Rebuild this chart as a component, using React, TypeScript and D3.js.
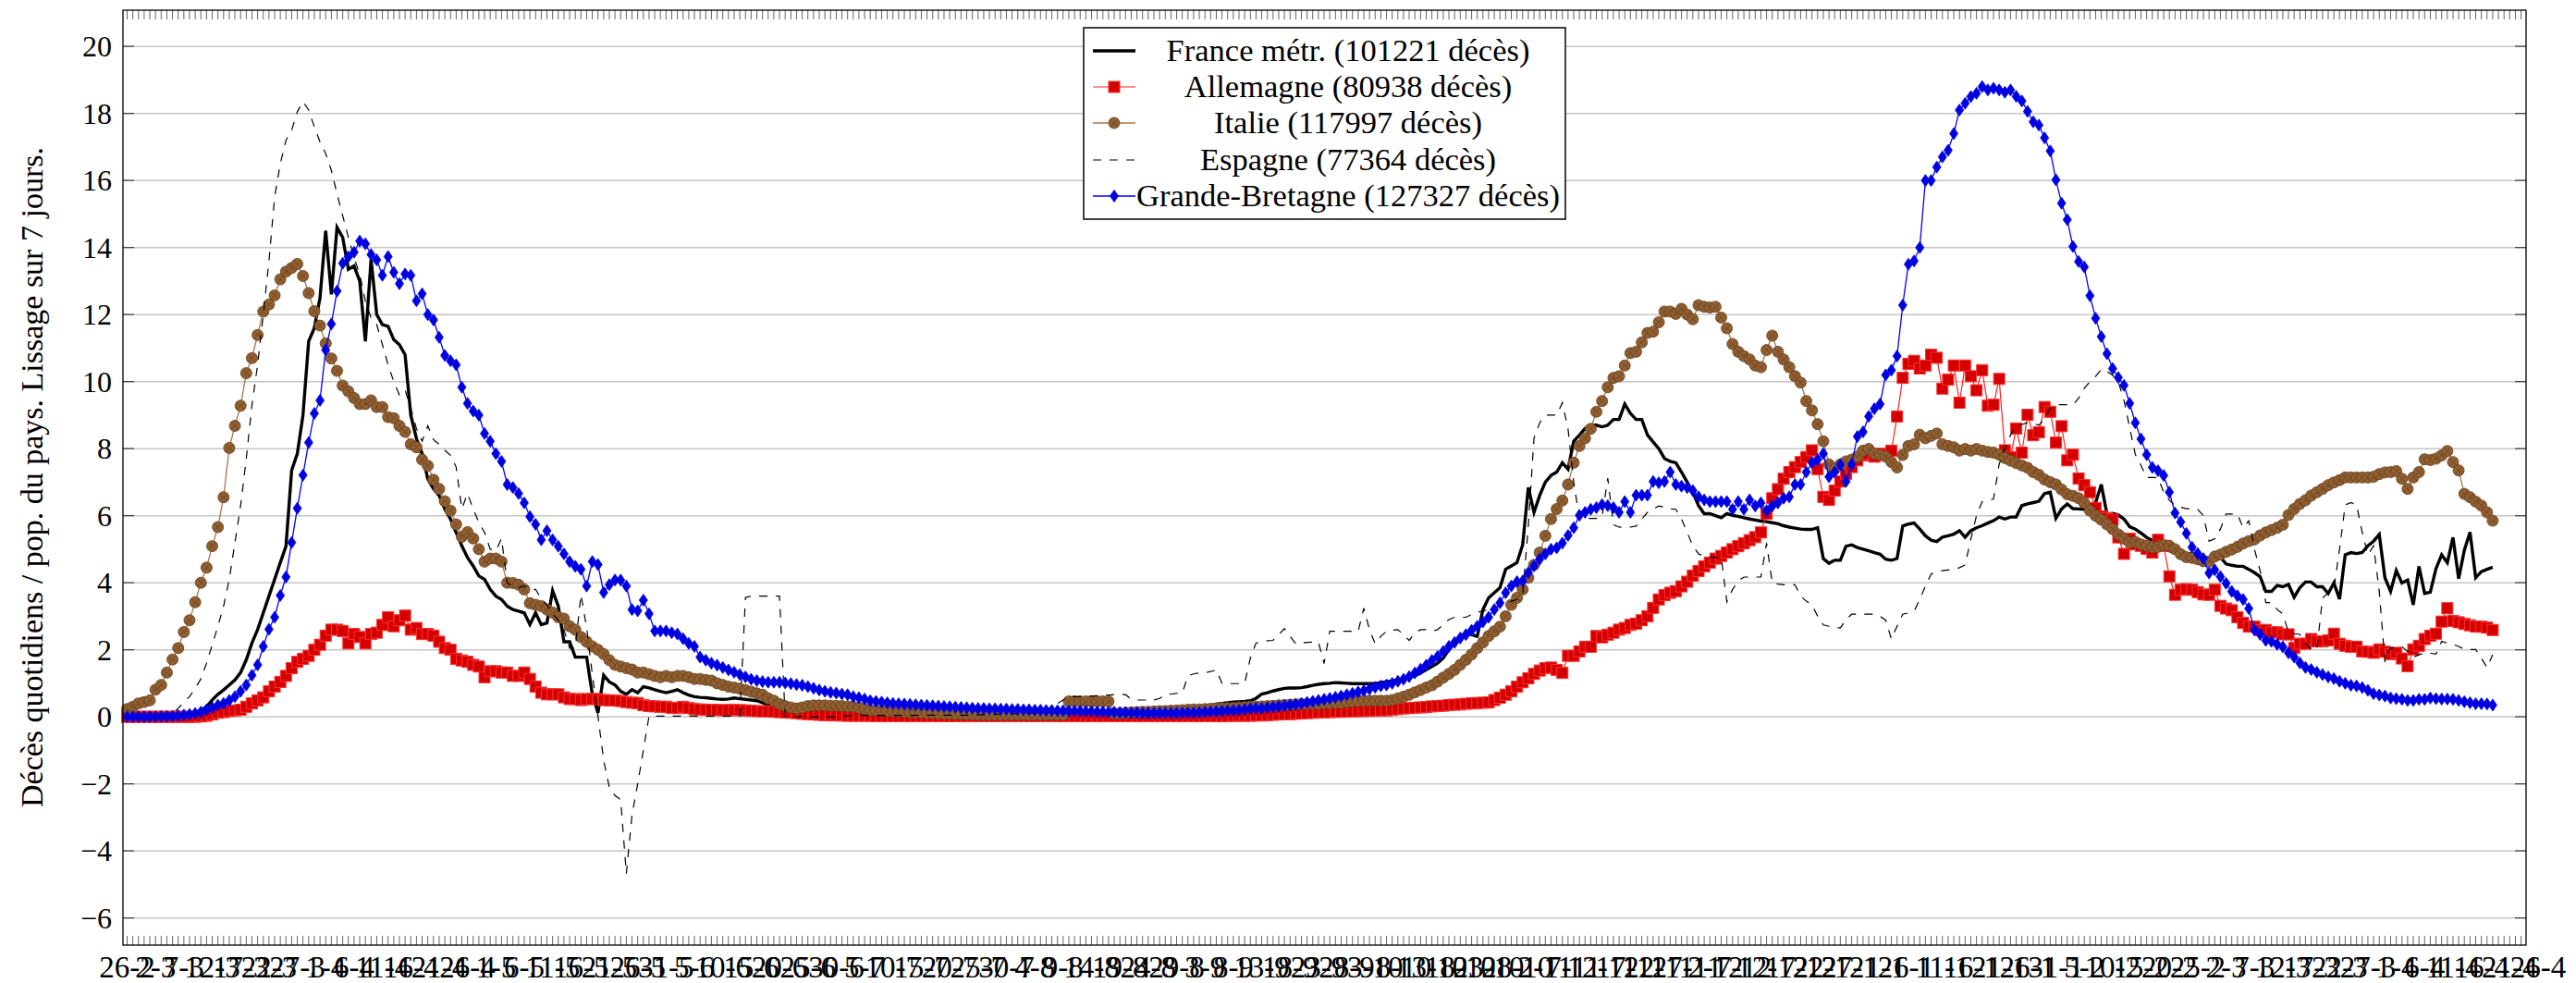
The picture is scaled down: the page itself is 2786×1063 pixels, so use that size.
import React from 'react';
import * as d3 from 'd3';

// one label every 5 days, starting 26 Feb 2020
const xLabels = [
  '26-2', '2-3', '7-3', '12-3', '17-3', '22-3', '27-3', '1-4', '6-4', '11-4',
  '16-4', '21-4', '26-4', '1-5', '6-5', '11-5', '16-5', '21-5', '26-5', '31-5',
  '5-6', '10-6', '15-6', '20-6', '25-6', '30-6', '5-7', '10-7', '15-7', '20-7',
  '25-7', '30-7', '4-8', '9-8', '14-8', '19-8', '24-8', '29-8', '3-9', '8-9',
  '13-9', '18-9', '23-9', '28-9', '3-10', '8-10', '13-10', '18-10', '23-10', '28-10',
  '2-11', '7-11', '12-11', '17-11', '22-11', '27-11', '2-12', '7-12', '12-12', '17-12',
  '22-12', '27-12', '1-1', '6-1', '11-1', '16-1', '21-1', '26-1', '31-1', '5-2',
  '10-2', '15-2', '20-2', '25-2', '2-3', '7-3', '12-3', '17-3', '22-3', '27-3',
  '1-4', '6-4', '11-4', '16-4', '21-4', '26-4',
];
const yTicks = [-6, -4, -2, 0, 2, 4, 6, 8, 10, 12, 14, 16, 18, 20];

const france = [
  0, 0, 0, 0, 0, 0.01, 0.02, 0.03, 0.04, 0.05,
  0.08, 0.1, 0.12, 0.2, 0.3, 0.5, 0.67, 0.8, 0.95, 1.1,
  1.32, 1.7, 2.2, 2.6, 3.1, 3.6, 4.1, 4.6, 5.09, 7.35,
  7.85, 9.0, 11.2, 11.6, 12.5, 14.5, 12.6, 14.6, 14.3, 13.35,
  13.45, 13.0, 11.2, 13.65, 12.0, 11.7, 11.65, 11.25, 11.1, 10.8,
  9.0, 8.3, 7.85, 7.1, 6.8, 6.6, 6.2, 5.9, 5.5, 5.1,
  4.75, 4.5, 4.2, 4.1, 3.8, 3.6, 3.5, 3.3, 3.2, 3.15,
  3.1, 2.75, 3.1, 2.75, 2.8, 3.76, 3.3, 2.24, 2.24, 1.78,
  1.78, 1.78, 0.67, 0.12, 1.24, 1.04, 0.95, 0.76, 0.67, 0.81,
  0.72, 0.9, 0.86, 0.81, 0.76, 0.72, 0.76, 0.81, 0.72, 0.65,
  0.6, 0.58, 0.57, 0.55, 0.53, 0.52, 0.53, 0.56, 0.54, 0.52,
  0.5, 0.48, 0.42, 0.35, 0.31, 0.27, 0.25, 0.23, 0.22, 0.21,
  0.2, 0.2, 0.2, 0.19, 0.19, 0.18, 0.18, 0.17, 0.17, 0.17,
  0.16, 0.16, 0.16, 0.15, 0.15, 0.15, 0.14, 0.14, 0.14, 0.13,
  0.13, 0.13, 0.13, 0.12, 0.12, 0.12, 0.12, 0.11, 0.11, 0.11,
  0.11, 0.11, 0.11, 0.11, 0.11, 0.11, 0.11, 0.11, 0.11, 0.11,
  0.11, 0.11, 0.12, 0.12, 0.13, 0.13, 0.14, 0.14, 0.15, 0.15,
  0.16, 0.16, 0.16, 0.17, 0.17, 0.17, 0.18, 0.18, 0.18, 0.18,
  0.19, 0.2, 0.2, 0.21, 0.22, 0.22, 0.22, 0.22, 0.22, 0.26,
  0.3, 0.34, 0.38, 0.4, 0.42, 0.44, 0.45, 0.46, 0.48, 0.55,
  0.68, 0.72, 0.77, 0.81, 0.85, 0.86, 0.86, 0.87, 0.9, 0.94,
  0.97, 0.99, 1.0, 1.02, 1.01, 1.0, 0.99, 0.99, 0.99, 0.99,
  0.99, 1.02, 1.05, 1.07, 1.1, 1.12, 1.17, 1.22, 1.31, 1.4,
  1.5, 1.6, 1.75, 2.0, 2.2, 2.4, 2.5, 2.45, 2.4, 3.2,
  3.55, 3.7, 3.85, 4.4, 4.5, 4.6, 5.13, 6.84, 6.1, 6.6,
  7.0, 7.2, 7.3, 7.58, 7.39, 8.22, 8.4, 8.6, 8.7, 8.7,
  8.65, 8.7, 8.87, 8.87, 9.33, 9.05, 8.87, 8.87, 8.41, 8.2,
  8.0, 7.71, 7.62, 7.58, 7.3, 7.0, 6.7, 6.3, 6.06, 6.06,
  6.0, 5.94, 6.06, 6.01, 5.98, 5.94, 5.9, 5.87, 5.84, 5.82,
  5.79, 5.76, 5.7, 5.66, 5.63, 5.6, 5.59, 5.59, 5.64, 4.72,
  4.58, 4.67, 4.67, 5.09, 5.13, 5.05, 5.0, 4.95, 4.9, 4.85,
  4.7, 4.67, 4.72, 5.69, 5.75, 5.78, 5.6, 5.4, 5.27, 5.23,
  5.36, 5.4, 5.45, 5.55, 5.36, 5.55, 5.64, 5.7, 5.78, 5.85,
  5.96, 5.9, 5.96, 5.96, 6.3, 6.35, 6.39, 6.43, 6.66, 6.7,
  5.92, 6.2, 6.35, 6.21, 6.2, 6.19, 6.19, 6.39, 6.93, 6.05,
  6.07, 6.02, 5.9, 5.67, 5.6, 5.48, 5.35, 5.26, 5.22, 5.0,
  4.95, 4.9, 4.86, 4.83, 4.88, 4.82, 4.76, 4.74, 4.72, 4.76,
  4.56, 4.52, 4.49, 4.49, 4.4, 4.3, 4.18, 3.74, 3.74, 3.92,
  3.88, 3.95, 3.57, 3.85, 4.02, 4.02, 3.88, 3.88, 3.68, 3.99,
  3.51, 4.83, 4.9, 4.87, 4.9, 5.1, 5.24, 5.44, 4.15, 3.74,
  4.36, 3.99, 4.08, 3.34, 4.49, 3.68, 3.72, 4.42, 4.83, 4.6,
  5.35, 4.12, 4.97, 5.51, 4.15, 4.33, 4.4, 4.46,
];

const allemagne = [
  0, 0, 0, 0, 0, 0, 0, 0, 0, 0,
  0, 0, 0, 0.01, 0.03, 0.07, 0.12, 0.14, 0.17, 0.19,
  0.21, 0.3, 0.4, 0.49, 0.58, 0.76, 0.9, 1.04, 1.22, 1.45,
  1.64, 1.73, 1.82, 2.0, 2.15, 2.42, 2.6, 2.6, 2.56, 2.19,
  2.47, 2.38, 2.19, 2.47, 2.51, 2.74, 2.97, 2.7, 2.88, 3.02,
  2.6, 2.65, 2.47, 2.47, 2.42, 2.24, 2.05, 2.0, 1.73, 1.68,
  1.64, 1.55, 1.5, 1.18, 1.36, 1.36, 1.32, 1.32, 1.22, 1.22,
  1.32, 1.13, 0.9, 0.72, 0.67, 0.67, 0.67, 0.58, 0.53, 0.53,
  0.5, 0.53, 0.53, 0.53, 0.5, 0.49, 0.49, 0.47, 0.44, 0.42,
  0.41, 0.35, 0.32, 0.31, 0.3, 0.3, 0.27, 0.26, 0.3, 0.26,
  0.23, 0.22, 0.21, 0.21, 0.2, 0.2, 0.2, 0.2, 0.2, 0.19,
  0.18, 0.17, 0.16, 0.16, 0.15, 0.14, 0.13, 0.12, 0.11, 0.09,
  0.08, 0.07, 0.06, 0.05, 0.05, 0.04, 0.04, 0.03, 0.03, 0.03,
  0.03, 0.03, 0.02, 0.02, 0.02, 0.02, 0.02, 0.02, 0.02, 0.02,
  0.02, 0.02, 0.02, 0.02, 0.02, 0.02, 0.02, 0.02, 0.02, 0.02,
  0.02, 0.02, 0.02, 0.02, 0.02, 0.02, 0.02, 0.02, 0.02, 0.02,
  0.02, 0.02, 0.02, 0.02, 0.02, 0.02, 0.02, 0.02, 0.02, 0.02,
  0.02, 0.02, 0.02, 0.02, 0.02, 0.02, 0.02, 0.02, 0.02, 0.02,
  0.02, 0.02, 0.02, 0.02, 0.02, 0.02, 0.02, 0.02, 0.02, 0.02,
  0.02, 0.02, 0.02, 0.02, 0.02, 0.03, 0.03, 0.03, 0.03, 0.04,
  0.04, 0.05, 0.06, 0.07, 0.08, 0.08, 0.09, 0.1, 0.11, 0.12,
  0.13, 0.13, 0.14, 0.15, 0.15, 0.16, 0.16, 0.17, 0.17, 0.18,
  0.18, 0.19, 0.19, 0.21, 0.23, 0.25, 0.26, 0.27, 0.28, 0.29,
  0.31, 0.32, 0.33, 0.35, 0.36, 0.37, 0.39, 0.4, 0.41, 0.42,
  0.43, 0.5, 0.57, 0.66, 0.76, 0.9, 1.03, 1.15, 1.28, 1.38,
  1.45, 1.47, 1.4, 1.31, 1.82, 1.82, 1.95, 2.09, 2.09, 2.41,
  2.37, 2.45, 2.51, 2.6, 2.65, 2.74, 2.78, 2.88, 3.0, 3.25,
  3.5, 3.63, 3.7, 3.75, 3.89, 4.03, 4.21, 4.35, 4.49, 4.6,
  4.72, 4.8, 4.9, 5.0, 5.09, 5.18, 5.27, 5.36, 5.5, 6.06,
  6.52, 6.79, 7.1, 7.3, 7.45, 7.6, 7.75, 7.95, 7.39, 6.56,
  6.47, 6.75, 7.02, 7.25, 7.45, 7.65, 7.8, 7.85, 7.76, 7.85,
  7.81, 7.94, 8.96, 10.11, 10.53, 10.62, 10.39, 10.48, 10.8, 10.71,
  9.79, 10.06, 10.48, 9.37, 10.48, 10.16, 9.74, 10.34, 9.28, 9.31,
  10.08, 7.95, 7.75, 8.6, 7.88, 9.01, 8.4, 8.49, 9.24, 9.1,
  8.18, 8.67, 7.65, 7.82, 7.11, 6.91, 6.7, 6.23, 5.98, 5.92,
  5.88, 5.35, 4.86, 5.31, 5.14, 5.1, 5.01, 4.9, 5.28, 5.1,
  4.19, 3.64, 3.79, 3.81, 3.79, 3.72, 3.65, 3.64, 3.79, 3.31,
  3.23, 3.18, 2.97, 2.8, 2.69, 2.69, 2.59, 2.59, 2.52, 2.52,
  2.46, 2.46, 2.05, 2.18, 2.18, 2.32, 2.25, 2.25, 2.28, 2.48,
  2.18, 2.12, 2.09, 2.09, 1.95, 1.94, 1.91, 2.01, 1.94, 1.87,
  1.91, 1.74, 1.51, 2.01, 2.12, 2.32, 2.42, 2.48, 2.84, 3.24,
  2.86, 2.82, 2.77, 2.73, 2.69, 2.69, 2.66, 2.59,
];

const italie = [
  0.23, 0.3, 0.4, 0.44, 0.49, 0.81, 0.95, 1.32, 1.71, 2.05,
  2.53, 2.88, 3.42, 4.0, 4.45, 5.09, 5.66, 6.55, 8.02, 8.68,
  9.28, 10.25, 10.7, 11.39, 12.09, 12.3, 12.57, 13.05, 13.28, 13.39,
  13.51, 13.15, 12.64, 12.1, 11.67, 11.14, 10.69, 10.32, 9.88, 9.71,
  9.51, 9.33, 9.33, 9.44, 9.24, 9.24, 8.94, 8.91, 8.68, 8.5,
  8.13, 8.04, 7.67, 7.49, 7.07, 6.8, 6.43, 6.15, 5.74, 5.37,
  5.51, 5.32, 5.0, 4.63, 4.72, 4.72, 4.63, 4.0, 3.99, 3.94,
  3.8, 3.39, 3.34, 3.3, 3.2, 3.11, 2.97, 2.93, 2.7, 2.6,
  2.38, 2.24, 2.1, 2.0, 1.87, 1.69, 1.55, 1.5, 1.45, 1.41,
  1.32, 1.32, 1.27, 1.22, 1.18, 1.22, 1.18, 1.22, 1.22, 1.18,
  1.13, 1.13, 1.1, 1.08, 1.0, 0.95, 0.9, 0.87, 0.84, 0.8,
  0.75, 0.7, 0.66, 0.55, 0.48, 0.38, 0.32, 0.28, 0.25, 0.28,
  0.32, 0.34, 0.34, 0.34, 0.33, 0.33, 0.32, 0.31, 0.3, 0.27,
  0.24, 0.2, 0.19, 0.18, 0.17, 0.16, 0.15, 0.14, 0.13, 0.12,
  0.12, 0.11, 0.1, 0.1, 0.09, 0.09, 0.08, 0.08, 0.07, 0.07,
  0.06, 0.06, 0.06, 0.06, 0.06, 0.06, 0.06, 0.06, 0.06, 0.06,
  0.06, 0.06, 0.06, 0.06, 0.06, 0.06, 0.46, 0.46, 0.46, 0.46,
  0.46, 0.46, 0.46, 0.46, 0.1, 0.1, 0.12, 0.13, 0.14, 0.15,
  0.15, 0.16, 0.17, 0.17, 0.18, 0.19, 0.2, 0.21, 0.22, 0.22,
  0.23, 0.24, 0.25, 0.26, 0.26, 0.27, 0.28, 0.29, 0.3, 0.3,
  0.31, 0.32, 0.33, 0.34, 0.35, 0.36, 0.37, 0.38, 0.38, 0.39,
  0.39, 0.4, 0.4, 0.41, 0.42, 0.44, 0.46, 0.47, 0.48, 0.48,
  0.48, 0.48, 0.48, 0.5, 0.55, 0.6, 0.66, 0.73, 0.8, 0.87,
  0.94, 1.05, 1.17, 1.28, 1.4, 1.55, 1.7, 1.86, 2.05, 2.22,
  2.41, 2.55, 2.69, 3.0, 3.34, 3.55, 3.8, 4.15, 4.53, 4.9,
  5.4, 5.9, 6.2, 6.45, 6.93, 7.58, 8.08, 8.31, 8.59, 9.1,
  9.42, 9.83, 10.11, 10.16, 10.48, 10.85, 10.89, 11.17, 11.45, 11.49,
  11.77, 12.09, 12.09, 12.02, 12.17, 12.0, 11.86, 12.28, 12.23, 12.21,
  12.23, 11.91, 11.59, 11.12, 10.89, 10.76, 10.66, 10.48, 10.43, 10.94,
  11.37, 10.89, 10.66, 10.43, 10.16, 9.97, 9.42, 9.14, 8.73, 8.22,
  7.53, 7.39, 7.53, 7.62, 7.67, 7.76, 7.94, 7.99, 7.85, 7.81,
  7.76, 7.6, 7.44, 7.81, 8.08, 8.13, 8.41, 8.31, 8.38, 8.45,
  8.13, 8.08, 8.04, 7.94, 7.99, 7.94, 7.99, 7.94, 7.9, 7.88,
  7.82, 7.72, 7.64, 7.57, 7.5, 7.43, 7.3, 7.22, 7.08, 7.0,
  6.93, 6.78, 6.64, 6.59, 6.52, 6.38, 6.15, 6.0, 5.88, 5.74,
  5.6, 5.44, 5.31, 5.2, 5.22, 5.14, 5.1, 5.06, 5.07, 5.12,
  5.1, 5.0, 4.85, 4.76, 4.74, 4.7, 4.64, 4.63, 4.78, 4.84,
  4.92, 4.99, 5.07, 5.17, 5.24, 5.29, 5.41, 5.5, 5.57, 5.64,
  5.73, 6.02, 6.2, 6.35, 6.46, 6.6, 6.7, 6.8, 6.91, 6.99,
  7.06, 7.14, 7.14, 7.14, 7.14, 7.14, 7.16, 7.24, 7.29, 7.3,
  7.33, 7.1, 6.8, 7.14, 7.3, 7.68, 7.66, 7.7, 7.8, 7.93,
  7.6, 7.35, 6.65, 6.55, 6.42, 6.3, 6.1, 5.85,
];

const espagne = [
  0, 0, 0, 0, 0, 0, 0.02, 0.05, 0.1, 0.25,
  0.45, 0.6, 0.85, 1.13, 1.6, 2.15, 2.7, 3.3, 4.1, 5.2,
  6.29, 7.7, 9.3, 10.5, 12.0, 13.6, 15.5, 16.5, 17.2, 17.5,
  18.05, 18.35, 18.1, 17.6, 17.15, 16.8, 16.3, 15.6, 14.95, 14.3,
  13.7, 13.2, 12.4, 11.9, 11.7, 11.1, 10.5, 10.0, 9.6, 9.75,
  9.2, 8.6, 8.22, 8.68, 8.27, 8.13, 7.95, 7.8, 7.45, 6.2,
  6.66, 6.2, 5.8, 5.5, 5.0, 4.95, 5.32, 4.0, 3.9, 3.85,
  3.9, 3.8, 3.8, 3.53, 3.34, 3.07, 2.88, 2.6, 2.05, 2.05,
  3.65, 2.65, 1.27, 0.02, -1.3, -2.1, -2.35, -2.47, -4.68, -2.93,
  -2.0, -1.0, 0.02, 0.02, 0.02, 0.02, 0.02, 0.02, 0.02, 0.02,
  0.02, 0.02, 0.02, 0.02, 0.02, 0.02, 0.02, 0.02, 0.02, 3.56,
  3.6, 3.6, 3.6, 3.6, 3.6, 3.6, 0, 0, 0, 0,
  0, 0, 0, 0, 0, 0, 0.03, 0.03, 0.03, 0.03,
  0.04, 0.04, 0.04, 0.04, 0.04, 0.04, 0.04, 0.04, 0.04, 0.04,
  0.05, 0.05, 0.05, 0.05, 0.05, 0.05, 0.05, 0.05, 0.05, 0.05,
  0.06, 0.06, 0.07, 0.07, 0.08, 0.08, 0.09, 0.09, 0.1, 0.1,
  0.12, 0.15, 0.2, 0.3, 0.4, 0.5, 0.6, 0.6, 0.6, 0.61,
  0.62, 0.63, 0.64, 0.65, 0.66, 0.66, 0.66, 0.53, 0.5, 0.5,
  0.5, 0.5, 0.55, 0.66, 0.68, 0.7, 0.71, 1.22, 1.28, 1.31,
  1.31, 1.35, 1.4, 1.0, 0.99, 0.99, 0.99, 1.0, 1.75, 2.2,
  2.25, 2.27, 2.28, 2.45, 2.63, 2.4, 2.18, 2.2, 2.22, 2.23,
  2.23, 1.59, 2.55, 2.55, 2.55, 2.55, 2.55, 2.55, 3.24, 2.6,
  2.18, 2.4, 2.55, 2.58, 2.6, 2.45, 2.28, 2.5, 2.6, 2.6,
  2.55, 2.6, 2.75, 2.9, 2.97, 2.97, 2.97, 3.05, 3.12, 3.15,
  3.2, 3.25, 3.3, 3.35, 3.45, 3.5, 3.6, 5.7, 8.31, 8.77,
  9.0, 9.0, 9.0, 9.37, 8.59, 7.0, 5.92, 5.92, 5.92, 5.92,
  5.96, 7.12, 5.73, 5.66, 5.65, 5.66, 5.69, 5.9, 6.1, 6.2,
  6.29, 6.25, 6.2, 6.19, 5.9, 5.5, 5.1, 4.86, 4.8, 4.76,
  4.76, 4.76, 3.43, 3.8, 4.05, 4.17, 4.17, 4.17, 4.17, 5.18,
  4.0, 3.96, 3.94, 3.94, 3.94, 3.6, 3.45, 3.34, 3.0, 2.74,
  2.7, 2.68, 2.65, 2.9, 3.06, 3.06, 3.06, 3.06, 3.06, 3.0,
  2.88, 2.32, 2.7, 3.06, 3.1, 3.15, 3.5, 3.9, 4.26, 4.33,
  4.36, 4.38, 4.4, 4.45, 4.53, 5.3, 6.0, 6.42, 6.45, 6.5,
  7.54, 8.0, 8.4, 8.68, 8.72, 8.77, 8.75, 8.7, 8.9, 9.2,
  9.31, 9.31, 9.31, 9.31, 9.5, 9.8, 10.0, 10.15, 10.37, 10.3,
  10.19, 10.0, 9.44, 8.63, 7.82, 7.5, 7.14, 7.14, 7.14, 6.7,
  6.46, 6.3, 6.25, 6.21, 6.2, 6.19, 6.0, 5.24, 5.31, 5.6,
  6.05, 6.05, 6.05, 5.64, 5.85, 5.0, 4.36, 3.41, 3.41, 3.2,
  3.07, 2.52, 2.48, 2.46, 2.2, 2.01, 2.01, 3.54, 3.7, 3.81,
  5.0, 6.32, 6.39, 6.32, 5.5, 4.83, 5.1, 3.74, 1.64, 2.05,
  2.07, 2.09, 1.95, 1.78, 1.85, 1.91, 1.9, 1.87, 2.25, 2.2,
  2.16, 2.1, 2.01, 2.01, 2.01, 1.75, 1.47, 1.85,
];

const bretagne = [
  0, 0, 0, 0, 0, 0, 0.01, 0.01, 0.02, 0.03,
  0.05, 0.07, 0.1, 0.14, 0.21, 0.27, 0.35, 0.4, 0.49, 0.6,
  0.76, 0.95, 1.24, 1.55, 2.1, 2.61, 2.97, 3.62, 4.17, 5.2,
  6.22, 7.21, 8.18, 9.05, 9.44, 10.94, 11.72, 12.7, 13.53, 13.72,
  13.86, 14.19, 14.11, 13.79, 13.63, 13.17, 13.73, 13.26, 12.92, 13.21,
  13.17, 12.41, 12.62, 12.0, 11.84, 11.32, 10.78, 10.62, 10.5, 9.83,
  9.35, 9.12, 9.0, 8.45, 8.22, 7.85, 7.62, 6.93, 6.84, 6.66,
  6.38, 5.97, 5.74, 5.28, 5.55, 5.28, 5.09, 4.86, 4.63, 4.49,
  4.4, 3.9, 4.63, 4.54, 3.71, 3.94, 4.08, 4.08, 3.9, 3.2,
  3.16, 3.48, 3.07, 2.56, 2.56, 2.56, 2.51, 2.47, 2.33, 2.19,
  2.1, 1.78, 1.69, 1.6, 1.54, 1.47, 1.4, 1.33, 1.26, 1.19,
  1.12, 1.08, 1.05, 1.03, 1.03, 1.03, 1.01, 0.99, 0.96, 0.94,
  0.9, 0.85, 0.8, 0.76, 0.73, 0.71, 0.68, 0.66, 0.6, 0.57,
  0.53, 0.48, 0.46, 0.44, 0.42, 0.4, 0.39, 0.38, 0.37, 0.36,
  0.35, 0.34, 0.33, 0.32, 0.31, 0.3, 0.29, 0.28, 0.27, 0.26,
  0.25, 0.25, 0.24, 0.24, 0.23, 0.23, 0.22, 0.22, 0.21, 0.21,
  0.2, 0.2, 0.19, 0.19, 0.18, 0.18, 0.17, 0.17, 0.17, 0.16,
  0.16, 0.15, 0.15, 0.14, 0.14, 0.13, 0.13, 0.12, 0.12, 0.11,
  0.11, 0.11, 0.11, 0.11, 0.11, 0.11, 0.12, 0.12, 0.12, 0.13,
  0.14, 0.15, 0.16, 0.17, 0.18, 0.19, 0.2, 0.22, 0.24, 0.25,
  0.25, 0.27, 0.29, 0.31, 0.33, 0.35, 0.37, 0.4, 0.43, 0.46,
  0.49, 0.52, 0.55, 0.58, 0.62, 0.66, 0.7, 0.74, 0.78, 0.83,
  0.88, 0.92, 0.95, 1.0, 1.06, 1.12, 1.2, 1.31, 1.42, 1.54,
  1.68, 1.8, 1.95, 2.1, 2.22, 2.35, 2.45, 2.58, 2.7, 2.83,
  2.97, 3.2, 3.4, 3.7, 3.9, 4.03, 4.05, 4.3, 4.5, 4.7,
  4.86, 5.0, 5.04, 5.18, 5.41, 5.64, 6.01, 6.1, 6.19, 6.24,
  6.33, 6.3, 6.24, 6.1, 6.42, 6.1, 6.61, 6.61, 6.61, 7.02,
  6.98, 7.02, 7.3, 6.93, 6.88, 6.84, 6.75, 6.56, 6.47, 6.42,
  6.42, 6.42, 6.42, 6.19, 6.42, 6.19, 6.47, 6.29, 6.38, 6.15,
  6.29, 6.38, 6.52, 6.56, 6.93, 6.93, 7.3, 7.58, 7.67, 7.85,
  7.16, 7.3, 7.53, 7.02, 7.53, 8.36, 8.5, 8.96, 9.19, 9.33,
  10.2, 10.34, 10.76, 12.28, 13.5, 13.6, 14.0, 16.0, 16.0, 16.4,
  16.7, 16.9, 17.4, 18.1, 18.3, 18.5, 18.6, 18.8, 18.7, 18.75,
  18.7, 18.63, 18.7, 18.51, 18.37, 18.06, 17.75, 17.65, 17.27, 16.88,
  16.02, 15.32, 14.83, 14.03, 13.58, 13.42, 12.56, 11.89, 11.34, 10.83,
  10.39, 10.12, 9.89, 9.35, 8.77, 8.29, 7.82, 7.44, 7.34, 7.2,
  6.7, 6.08, 5.81, 5.47, 5.06, 4.87, 4.72, 4.29, 4.38, 4.18,
  3.98, 3.74, 3.61, 3.5, 3.23, 2.59, 2.46, 2.28, 2.25, 2.16,
  2.09, 1.91, 1.78, 1.61, 1.47, 1.41, 1.33, 1.26, 1.19, 1.14,
  1.06, 1.0, 0.94, 0.92, 0.87, 0.79, 0.69, 0.65, 0.62, 0.56,
  0.54, 0.52, 0.49, 0.49, 0.52, 0.52, 0.56, 0.54, 0.53, 0.53,
  0.52, 0.49, 0.45, 0.42, 0.39, 0.39, 0.38, 0.35,
];

const legendLabels = [
  'France métr. (101221 décès)',
  'Allemagne (80938 décès)',
  'Italie (117997 décès)',
  'Espagne (77364 décès)',
  'Grande-Bretagne (127327 décès)',
];

const W = 2786;
const H = 1063;
const left = 133;
const right = 2732;
const top = 11;
const bottom = 1022;
const FONT = "'Liberation Serif', 'DejaVu Serif', serif";

type Mark = 'square' | 'otimes' | 'diamond' | null;

function drawMark(kind: Mark, cx: number, cy: number, key: string | number) {
  if (kind === 'square') {
    return (
      <rect key={key} x={cx - 6} y={cy - 6} width={12} height={12}
        fill="#d40000" stroke="#ff3030" strokeWidth={1} />
    );
  }
  if (kind === 'otimes') {
    return (
      <g key={key} transform={`translate(${cx},${cy})`}>
        <circle r={6} fill="#915f30" stroke="#6b4422" strokeWidth={0.9} />
        <path d="M-4.2,-4.2L4.2,4.2M-4.2,4.2L4.2,-4.2" stroke="#6b4422" strokeWidth={0.9} />
      </g>
    );
  }
  if (kind === 'diamond') {
    return (
      <path key={key} d={`M${cx},${cy - 6.5}L${cx + 4.5},${cy}L${cx},${cy + 6.5}L${cx - 4.5},${cy}Z`}
        fill="#0000dc" stroke="#0000ff" strokeWidth={0.8} />
    );
  }
  return null;
}

export default function App() {
  const x = d3.scaleLinear().domain([0, 425]).range([137.5, 2745]);
  const y = d3.scaleLinear().domain([-6.81, 21.08]).range([bottom, top]);

  const series = [
    { values: france, color: '#000000', width: 3.4, dash: undefined, mark: null as Mark },
    { values: allemagne, color: '#ff2020', width: 1.2, dash: undefined, mark: 'square' as Mark },
    { values: italie, color: '#a07850', width: 1.3, dash: undefined, mark: 'otimes' as Mark },
    { values: espagne, color: '#000000', width: 1.2, dash: '9 9', mark: null as Mark },
    { values: bretagne, color: '#0000ff', width: 1.3, dash: undefined, mark: 'diamond' as Mark },
  ];

  const line = d3.line<number>().x((_, i) => x(i)).y(d => y(d));

  const days = d3.range(0, 425).filter(i => x(i) <= right);
  const minorTicks = days.map(i => `M${x(i)},${bottom}V${bottom - 10}M${x(i)},${top}V${top + 10}`).join('');

  const fmt = (v: number) => (v < 0 ? `\u2212${Math.abs(v)}` : `${v}`);

  const legendRows = [55, 94, 133, 173, 212];

  return (
    <svg width={W} height={H} style={{ position: 'absolute', left: 0, top: 0, background: '#fff' }}
      fontFamily={FONT}>
      <rect x={0} y={0} width={W} height={H} fill="#fff" />

      {/* horizontal grid */}
      {yTicks.map(v => (
        <line key={`g${v}`} x1={left} x2={right} y1={y(v)} y2={y(v)} stroke="#c6c6c6" strokeWidth={1.5} />
      ))}

      {/* ticks */}
      <path d={minorTicks} stroke="#666" strokeWidth={1} fill="none" />
      {yTicks.map(v => (
        <path key={`t${v}`} d={`M${left},${y(v)}H${left + 12}M${right},${y(v)}H${right - 12}`}
          stroke="#444" strokeWidth={1.2} />
      ))}

      {/* series */}
      {series.map((s, si) => (
        <g key={`s${si}`}>
          <path d={line(s.values) || ''} fill="none" stroke={s.color} strokeWidth={s.width}
            strokeDasharray={s.dash} strokeLinejoin="miter" strokeMiterlimit={4} />
          {s.mark && s.values.map((v, i) => drawMark(s.mark, x(i), y(v), i))}
        </g>
      ))}

      {/* frame */}
      <rect x={left} y={top} width={right - left} height={bottom - top} fill="none" stroke="#000" strokeWidth={1.3} />

      {/* y tick labels */}
      {yTicks.map(v => (
        <text key={`yl${v}`} x={121} y={y(v) + 11} textAnchor="end" fontSize={32}>{fmt(v)}</text>
      ))}

      {/* x tick labels */}
      {xLabels.map((lab, k) => (
        <text key={`xl${k}`} x={x(k * 5)} y={1057} textAnchor="middle" fontSize={33}>{lab}</text>
      ))}

      {/* y axis title */}
      <text transform="translate(46,516) rotate(-90)" textAnchor="middle" fontSize={34}>
        Décès quotidiens / pop. du pays. Lissage sur 7 jours.
      </text>

      {/* legend */}
      <rect x={1172} y={30} width={521} height={207} fill="#fff" stroke="#000" strokeWidth={1.5} />
      {series.map((s, si) => (
        <g key={`l${si}`}>
          <line x1={1182} x2={1228} y1={legendRows[si]} y2={legendRows[si]} stroke={s.color}
            strokeWidth={s.width} strokeDasharray={s.dash} />
          {drawMark(s.mark, 1205, legendRows[si], 'm')}
          <text x={1458} y={legendRows[si] + 11} textAnchor="middle" fontSize={34.5}>{legendLabels[si]}</text>
        </g>
      ))}
    </svg>
  );
}
